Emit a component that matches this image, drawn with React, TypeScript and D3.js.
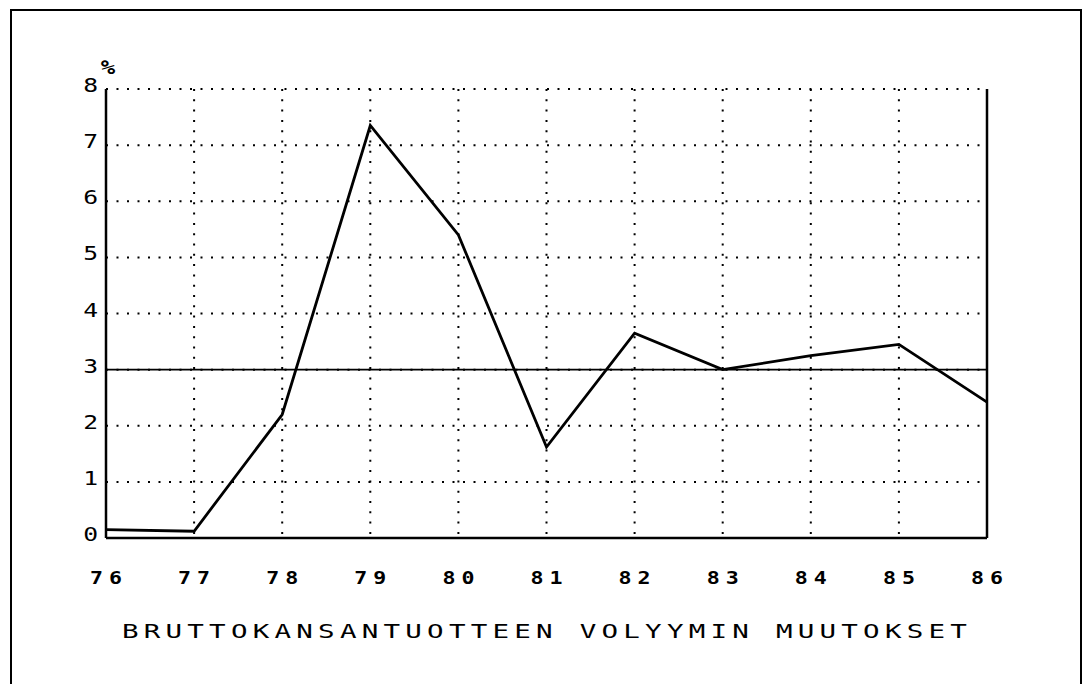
import React from "react";
import * as d3 from "d3";

// data
const years = [76, 77, 78, 79, 80, 81, 82, 83, 84, 85, 86];
const growth = [0.15, 0.12, 2.2, 7.35, 5.4, 1.62, 3.65, 3.0, 3.25, 3.45, 2.42];
const yTicks = [0, 1, 2, 3, 4, 5, 6, 7, 8];
const refLine = 3;
const title = "BRUTTOKANSANTUOTTEEN VOLYYMIN MUUTOKSET";

const W = 1085;
const H = 684;
const font = "'DejaVu Sans Mono', monospace";

// plotter-ish wide text: glyphs stretched horizontally
function Wide(props: {
  x: number;
  y: number;
  sx: number;
  size: number;
  spacing?: number;
  anchor?: "start" | "middle" | "end";
  bold?: boolean;
  children: React.ReactNode;
}) {
  const { x, y, sx, size, spacing = 0, anchor = "middle", bold } = props;
  return (
    <text
      transform={`translate(${x},${y}) scale(${sx},1)`}
      textAnchor={anchor}
      fontFamily={font}
      fontSize={size}
      fontWeight={bold ? "bold" : "normal"}
      letterSpacing={spacing}
    >
      {props.children}
    </text>
  );
}

export default function App() {
  const x = d3.scaleLinear().domain([76, 86]).range([106, 987]);
  const y = d3.scaleLinear().domain([0, 8]).range([538, 89]);

  const line = d3
    .line<number>()
    .x((d, i) => x(years[i]))
    .y((d) => y(d));

  return (
    <svg
      width={W}
      height={H}
      style={{ position: "absolute", left: 0, top: 0, background: "#fff" }}
    >
      {/* outer frame */}
      <rect x={11} y={10} width={1070} height={690} fill="none" stroke="#000" strokeWidth={2} />

      {/* dotted grid */}
      {yTicks.slice(1).map((t) => (
        <line
          key={"h" + t}
          x1={x(76)}
          x2={x(86)}
          y1={y(t)}
          y2={y(t)}
          stroke="#000"
          strokeWidth={2}
          strokeDasharray="2 8.5"
        />
      ))}
      {years.slice(1, -1).map((yr) => (
        <line
          key={"v" + yr}
          x1={x(yr)}
          x2={x(yr)}
          y1={y(8)}
          y2={y(0)}
          stroke="#000"
          strokeWidth={2}
          strokeDasharray="2 8.3"
        />
      ))}

      {/* axes */}
      <line x1={x(76)} x2={x(76)} y1={y(8)} y2={y(0)} stroke="#000" strokeWidth={2.5} />
      <line x1={x(86)} x2={x(86)} y1={y(8)} y2={y(0)} stroke="#000" strokeWidth={2.5} />
      <line x1={x(76)} x2={x(86)} y1={y(0)} y2={y(0)} stroke="#000" strokeWidth={2.5} />

      {/* reference line */}
      <line x1={x(76)} x2={x(86)} y1={y(refLine)} y2={y(refLine)} stroke="#000" strokeWidth={1.6} />

      {/* series */}
      <path d={line(growth) || ""} fill="none" stroke="#000" strokeWidth={2.8} strokeLinejoin="miter" />

      {/* y labels */}
      {yTicks.map((t) => (
        <Wide key={"yl" + t} x={98} y={y(t) + 3} sx={1.3} size={19} anchor="end">
          {t}
        </Wide>
      ))}
      <Wide x={108} y={74} sx={1.2} size={20} bold>
        %
      </Wide>

      {/* x labels */}
      {years.map((yr) => (
        <Wide key={"xl" + yr} x={x(yr) + 3} y={584} sx={1.2} size={18} spacing={5} bold>
          {yr}
        </Wide>
      ))}

      {/* title */}
      <Wide x={547} y={638} sx={1.45} size={19} spacing={3.6}>
        {title}
      </Wide>
    </svg>
  );
}
